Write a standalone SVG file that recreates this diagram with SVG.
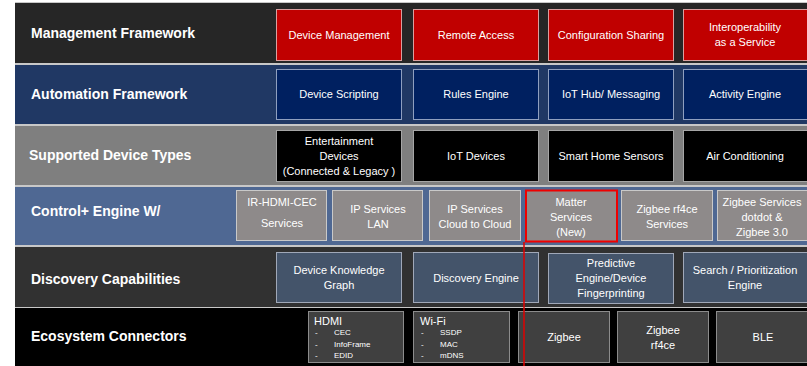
<svg xmlns="http://www.w3.org/2000/svg" width="807" height="366" viewBox="0 0 807 366">
<style>
.lbl{font-family:"Liberation Sans",Arial,sans-serif;font-weight:bold;font-size:14px;fill:#ffffff}
.t{font-family:"Liberation Sans",Arial,sans-serif;font-size:11px;fill:#ffffff;text-anchor:middle}
.tl{font-family:"Liberation Sans",Arial,sans-serif;font-size:11px;fill:#ffffff}
.ts{font-family:"Liberation Sans",Arial,sans-serif;font-size:8px;fill:#ffffff}
.red{fill:#c00000;stroke:#d9a0a0;stroke-width:1}
.navy{fill:#002060;stroke:#8f9fbf;stroke-width:1}
.blk{fill:#000000;stroke:#a6a6a6;stroke-width:1}
.gry{fill:#8e8a8a;stroke:#c9c9c9;stroke-width:1}
.slate{fill:#44546a;stroke:#a0a8b8;stroke-width:1}
.dk{fill:#404040;stroke:#8c8c8c;stroke-width:1}
</style>
<rect x="0" y="0" width="807" height="366" fill="#ffffff"/>
<rect x="15" y="2" width="792" height="364" fill="#c8c8c8"/>
<g id="row-management">
<rect x="15" y="3" width="792" height="60" fill="#262626"/>
<text class="lbl" x="31" y="38">Management Framework</text>
</g>
<g id="row-automation">
<rect x="15" y="65" width="792" height="59" fill="#203864"/>
<text class="lbl" x="31" y="99">Automation Framework</text>
</g>
<g id="row-device-types">
<rect x="15" y="126" width="792" height="59" fill="#7f7f7f"/>
<text class="lbl" x="29" y="160">Supported Device Types</text>
</g>
<g id="row-control">
<rect x="15" y="187" width="792" height="58" fill="#4f6893"/>
<text class="lbl" x="31" y="216">Control+ Engine W/</text>
</g>
<g id="row-discovery">
<rect x="15" y="247" width="792" height="60" fill="#313131"/>
<text class="lbl" x="31" y="284">Discovery Capabilities</text>
</g>
<g id="row-ecosystem">
<rect x="15" y="308" width="792" height="58" fill="#000000"/>
<text class="lbl" x="31" y="341">Ecosystem Connectors</text>
</g>

<g id="device-management"><rect class="red" x="276.5" y="9.5" width="125" height="51"/><text class="t" x="339" y="39">Device Management</text></g>
<g id="remote-access"><rect class="red" x="413.5" y="9.5" width="125" height="51"/><text class="t" x="476" y="39">Remote Access</text></g>
<g id="configuration-sharing"><rect class="red" x="548.5" y="9.5" width="125" height="51"/><text class="t" x="611" y="39">Configuration Sharing</text></g>
<g id="interoperability"><rect class="red" x="683.5" y="9.5" width="130" height="51"/><text class="t" x="745" y="31">Interoperability</text><text class="t" x="745" y="46">as a Service</text></g>

<g id="device-scripting"><rect class="navy" x="276.5" y="69.5" width="125" height="50"/><text class="t" x="339" y="98">Device Scripting</text></g>
<g id="rules-engine"><rect class="navy" x="413.5" y="69.5" width="125" height="50"/><text class="t" x="476" y="98">Rules Engine</text></g>
<g id="iot-hub"><rect class="navy" x="548.5" y="69.5" width="125" height="50"/><text class="t" x="611" y="98">IoT Hub/ Messaging</text></g>
<g id="activity-engine"><rect class="navy" x="683.5" y="69.5" width="130" height="50"/><text class="t" x="745" y="98">Activity Engine</text></g>

<g id="entertainment-devices"><rect class="blk" x="276.5" y="130.5" width="125" height="51"/><text class="t" x="339" y="145">Entertainment</text><text class="t" x="339" y="160">Devices</text><text class="t" x="339" y="175">(Connected &amp; Legacy )</text></g>
<g id="iot-devices"><rect class="blk" x="413.5" y="130.5" width="125" height="51"/><text class="t" x="476" y="160">IoT Devices</text></g>
<g id="smart-home-sensors"><rect class="blk" x="548.5" y="130.5" width="125" height="51"/><text class="t" x="611" y="160">Smart Home Sensors</text></g>
<g id="air-conditioning"><rect class="blk" x="683.5" y="130.5" width="130" height="51"/><text class="t" x="745" y="160">Air Conditioning</text></g>

<g id="ir-hdmi-cec"><rect class="gry" x="236.5" y="190.5" width="90" height="50"/><text class="t" x="282" y="206">IR-HDMI-CEC</text><text class="t" x="282" y="227">Services</text></g>
<g id="ip-services-lan"><rect class="gry" x="332.5" y="190.5" width="90" height="50"/><text class="t" x="378" y="213">IP Services</text><text class="t" x="378" y="228">LAN</text></g>
<g id="ip-services-cloud"><rect class="gry" x="429.5" y="190.5" width="91" height="50"/><text class="t" x="475" y="213">IP Services</text><text class="t" x="475" y="228">Cloud to Cloud</text></g>
<g id="matter-services"><rect class="gry" x="526" y="190.5" width="91" height="51" stroke="#ff0000" stroke-width="2" style="stroke:#f00000;stroke-width:2"/><text class="t" x="571" y="206">Matter</text><text class="t" x="571" y="221">Services</text><text class="t" x="571" y="236">(New)</text></g>
<g id="zigbee-rf4ce-services"><rect class="gry" x="621.5" y="190.5" width="91" height="50"/><text class="t" x="667" y="213">Zigbee rf4ce</text><text class="t" x="667" y="228">Services</text></g>
<g id="zigbee-services"><rect class="gry" x="717.5" y="190.5" width="95" height="50"/><text class="t" x="762" y="206">Zigbee Services</text><text class="t" x="762" y="221">dotdot &amp;</text><text class="t" x="762" y="236">Zigbee 3.0</text></g>

<g id="device-knowledge-graph"><rect class="slate" x="276.5" y="252.5" width="125" height="50"/><text class="t" x="339" y="274">Device Knowledge</text><text class="t" x="339" y="289">Graph</text></g>
<g id="discovery-engine"><rect class="slate" x="413.5" y="252.5" width="125" height="50"/><text class="t" x="476" y="282">Discovery Engine</text></g>
<g id="predictive-engine"><rect class="slate" x="548.5" y="253.5" width="125" height="50"/><text class="t" x="611" y="267">Predictive</text><text class="t" x="611" y="282">Engine/Device</text><text class="t" x="611" y="297">Fingerprinting</text></g>
<g id="search-prioritization"><rect class="slate" x="683.5" y="252.5" width="130" height="50"/><text class="t" x="745" y="274">Search / Prioritization</text><text class="t" x="745" y="289">Engine</text></g>

<g id="hdmi"><rect class="dk" x="308.5" y="311.5" width="95" height="51"/><text class="tl" x="314" y="325">HDMI</text><text class="ts" x="315" y="335">-</text><text class="ts" x="334" y="335">CEC</text><text class="ts" x="315" y="347">-</text><text class="ts" x="334" y="347">InfoFrame</text><text class="ts" x="315" y="358">-</text><text class="ts" x="334" y="358">EDID</text></g>
<g id="wifi"><rect class="dk" x="413.5" y="311.5" width="96" height="51"/><text class="tl" x="420" y="325">Wi-Fi</text><text class="ts" x="421" y="335">-</text><text class="ts" x="440" y="335">SSDP</text><text class="ts" x="421" y="347">-</text><text class="ts" x="440" y="347">MAC</text><text class="ts" x="421" y="358">-</text><text class="ts" x="440" y="358">mDNS</text></g>
<g id="zigbee"><rect class="dk" x="518.5" y="311.5" width="91" height="51"/><text class="t" x="564" y="341">Zigbee</text></g>
<g id="zigbee-rf4ce"><rect class="dk" x="617.5" y="311.5" width="91" height="51"/><text class="t" x="663" y="334">Zigbee</text><text class="t" x="663" y="349">rf4ce</text></g>
<g id="ble"><rect class="dk" x="716.5" y="311.5" width="95" height="51"/><text class="t" x="763" y="341">BLE</text></g>

<g id="connectors">
<line x1="524" y1="242" x2="524" y2="366" stroke="#e00000" stroke-width="1.5"/>
</g>
</svg>
